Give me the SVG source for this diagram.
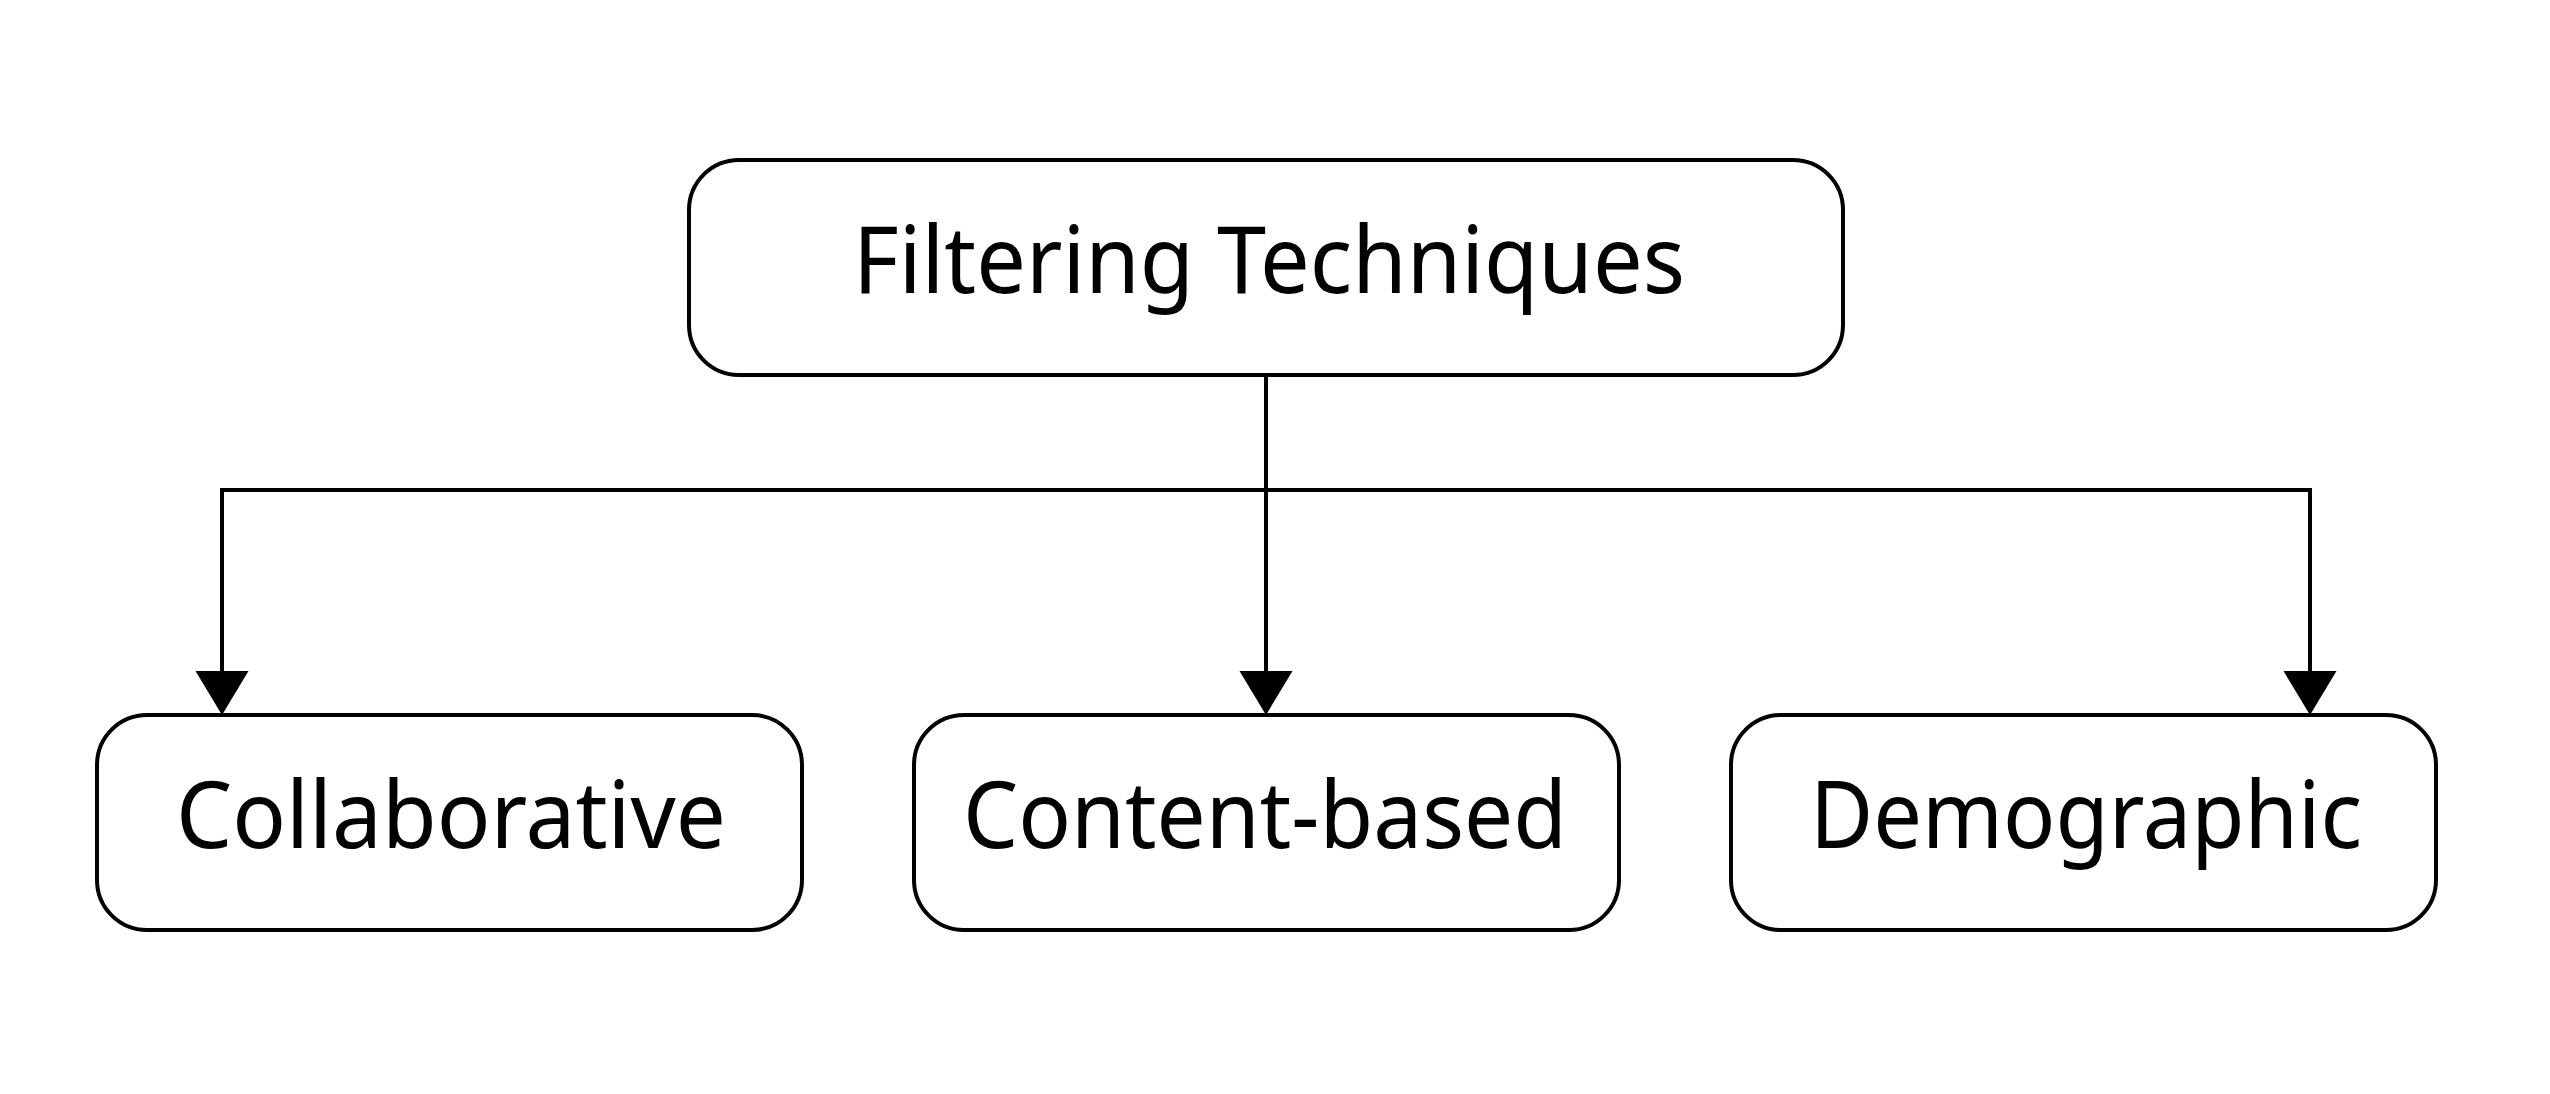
<svg xmlns="http://www.w3.org/2000/svg" width="2550" height="1094" viewBox="0 0 2550 1094">
  <style>
    .box { fill: #ffffff; stroke: #000000; stroke-width: 4; }
    .label { font-family: "Noto Sans", "Open Sans", sans-serif; font-size: 93px; fill: #000000; text-anchor: middle; }
    .conn { fill: none; stroke: #000000; stroke-width: 4; }
  </style>
  <defs>
    <marker id="arrow" markerUnits="userSpaceOnUse" markerWidth="46" markerHeight="54" viewBox="0 0 44 54" refX="0" refY="27" orient="auto">
      <path d="M0,0.5 L44,27 L0,53.5 z" fill="#000000"/>
    </marker>
  </defs>
  <rect x="0" y="0" width="2550" height="1094" fill="#ffffff"/>
  <g id="connectors">
    <path class="conn" d="M1266,375 L1266,490"/>
    <path class="conn" d="M222,490 L2310,490"/>
    <path class="conn" d="M222,488 L222,671" marker-end="url(#arrow)"/>
    <path class="conn" d="M1266,490 L1266,671" marker-end="url(#arrow)"/>
    <path class="conn" d="M2310,488 L2310,671" marker-end="url(#arrow)"/>
  </g>
  <g id="node-filtering-techniques">
    <rect class="box" x="689" y="160" width="1154" height="215" rx="50" ry="50"/>
    <text class="label" x="1269" y="293" textLength="832" lengthAdjust="spacingAndGlyphs">Filtering Techniques</text>
  </g>
  <g id="node-collaborative">
    <rect class="box" x="97" y="715" width="705" height="215" rx="50" ry="50"/>
    <text class="label" x="451" y="848" textLength="550" lengthAdjust="spacingAndGlyphs">Collaborative</text>
  </g>
  <g id="node-content-based">
    <rect class="box" x="914" y="715" width="705" height="215" rx="50" ry="50"/>
    <text class="label" x="1265" y="848" textLength="604" lengthAdjust="spacingAndGlyphs">Content-based</text>
  </g>
  <g id="node-demographic">
    <rect class="box" x="1731" y="715" width="705" height="215" rx="50" ry="50"/>
    <text class="label" x="2086" y="848" textLength="552" lengthAdjust="spacingAndGlyphs">Demographic</text>
  </g>
</svg>
